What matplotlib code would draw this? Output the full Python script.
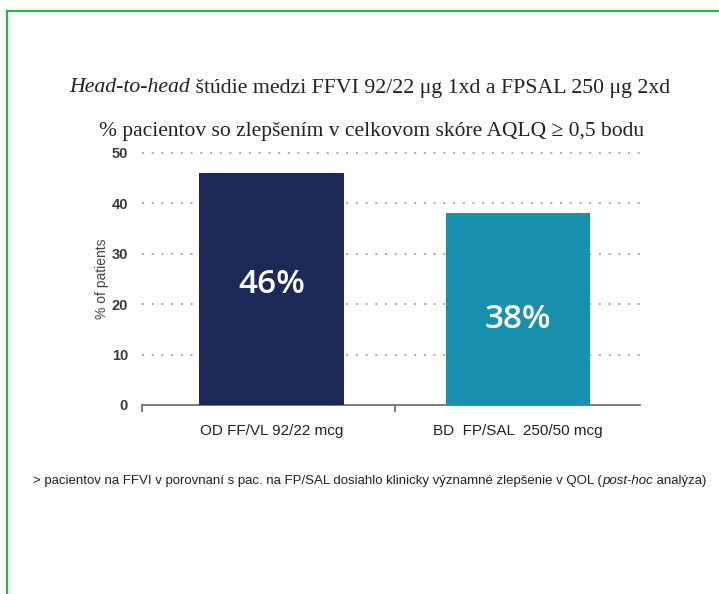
import matplotlib.pyplot as plt
from matplotlib.patches import Rectangle
from matplotlib import font_manager

# údaje z grafu
kategorie = ["OD FF/VL 92/22 mcg", "BD  FP/SAL  250/50 mcg"]
hodnoty = [46, 38]
popisky = ["46%", "38%"]
farby = ["#1c2858", "#1791ae"]
yticky = [0, 10, 20, 30, 40, 50]

nazov_kurziva = "Head-to-head"
nazov_zvysok = " štúdie medzi FFVI 92/22 μg 1xd a FPSAL 250 μg 2xd"
podnazov = "% pacientov so zlepšením v celkovom skóre AQLQ ≥ 0,5 bodu"
poznamka = "> pacientov na FFVI v porovnaní s pac. na FP/SAL dosiahlo klinicky významné zlepšenie v QOL ("
poznamka_kurziva = "post-hoc"
poznamka_koniec = " analýza)"

dostupne = {f.name for f in font_manager.fontManager.ttflist}
uzke = "Liberation Sans Narrow" if "Liberation Sans Narrow" in dostupne else "Liberation Sans"
serif = "Liberation Serif"

W, H = 719, 594
fig = plt.figure(figsize=(W / 100, H / 100), dpi=100)
fig.patch.set_facecolor("white")

# zelený rámik
fig.add_artist(Rectangle((7 / W, -0.05), 1.2, 1 - 11 / H + 0.05, transform=fig.transFigure,
                         fill=False, edgecolor="#2cb14a", linewidth=1.6))

ax = fig.add_axes([142 / W, 1 - 405 / H, 498 / W, 252 / H])
x = [0, 1]
ax.bar(x, hodnoty, width=0.585, color=farby, zorder=3)
ax.set_xlim(-0.525, 1.495)
ax.set_ylim(0, 50)

for y in yticky[1:]:
    ax.axhline(y, color="#a8a8a8", linestyle=(0, (1, 4)), linewidth=1.4, zorder=1, clip_on=False)

for s in ["top", "right", "left"]:
    ax.spines[s].set_visible(False)
ax.spines["bottom"].set_color("#666666")
ax.spines["bottom"].set_linewidth(1.2)

ax.set_yticks(yticky)
ax.set_yticklabels([str(v) for v in yticky], fontsize=10.5, color="#3a3a3a",
                   family=uzke, fontweight="bold")
ax.tick_params(axis="y", length=0, pad=10)

ax.set_xticks(x)
ax.set_xticklabels(kategorie, fontsize=11, color="#222222", family=uzke)
ax.tick_params(axis="x", which="major", length=0, pad=14)
ax.set_xticks([-0.525, 0.5], minor=True)
ax.tick_params(axis="x", which="minor", length=5, width=1.2, color="#666666", direction="out")

ax.set_ylabel("% of patients", fontsize=10, color="#444444", family=uzke, labelpad=2)

# hodnoty v stĺpcoch
for xi, text, yp in zip(x, popisky, [24, 17]):
    ax.text(xi, yp, text, color="white", fontsize=24, ha="center", va="center",
            family="Open Sans", fontweight="semibold", zorder=4)

# nadpis s kurzívou na začiatku
t1 = fig.text(0, 1 - 88 / H, nazov_kurziva, fontsize=15.7, style="italic", family=serif,
              color="#222222", va="center")
t2 = fig.text(0, 1 - 88 / H, nazov_zvysok, fontsize=15.7, family=serif, color="#222222", va="center")
t3 = fig.text(372 / W, 1 - 131 / H, podnazov, fontsize=15.5, family=serif, color="#222222",
              ha="center", va="center")

# poznámka pod grafom
p1 = fig.text(33 / W, 1 - 481 / H, poznamka, fontsize=9.5, family=uzke, color="#222222", va="center")
p2 = fig.text(0, 1 - 481 / H, poznamka_kurziva, fontsize=9.5, family=uzke, style="italic",
              color="#222222", va="center")
p3 = fig.text(0, 1 - 481 / H, poznamka_koniec, fontsize=9.5, family=uzke, color="#222222", va="center")

fig.canvas.draw()
r = fig.canvas.get_renderer()
w1 = t1.get_window_extent(r).width
w2 = t2.get_window_extent(r).width
start = 370 - (w1 + w2) / 2
t1.set_x(start / W)
t2.set_x((start + w1) / W)

x0 = 33 + p1.get_window_extent(r).width
p2.set_x(x0 / W)
p3.set_x((x0 + p2.get_window_extent(r).width) / W)

fig.savefig("out.png", dpi=100)
